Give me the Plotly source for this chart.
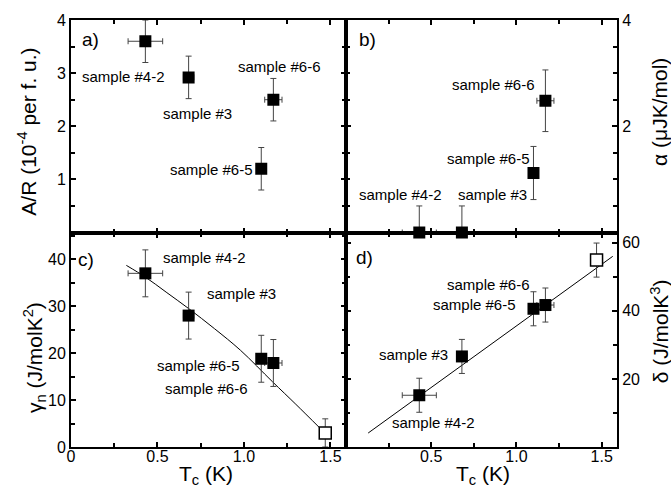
import plotly.graph_objects as go

# ---------------- data ----------------
samples = ["sample #4-2", "sample #3", "sample #6-5", "sample #6-6"]
Tc = [0.43, 0.68, 1.10, 1.17]
Tc_err = [0.10, 0.03, 0.0, 0.05]

A_R = [3.6, 2.92, 1.2, 2.5]
A_R_err = [0.4, 0.4, 0.4, 0.4]

alpha = [0.0, 0.0, 1.12, 2.48]
alpha_err_plus = [0.5, 0.5, 0.5, 0.58]
alpha_err_minus = [0.0, 0.0, 0.5, 0.58]

gamma_n = [37.0, 28.0, 18.8, 17.9]
gamma_err = [5, 5, 5, 5]

delta = [15.2, 26.6, 40.6, 41.7]
delta_err = [5, 5, 5, 5]

# open-square point (extrapolated)
Tc_open = [1.47]
gamma_open = [3.0]
gamma_open_err = [3.0]
delta_open = [54.9]
delta_open_err = [5.0]

# fit curves
fit_c_x = [0.32, 0.43, 0.55, 0.68, 0.83, 0.98, 1.165, 1.30, 1.44]
fit_c_y = [38.7, 36.2, 33.0, 29.5, 25.2, 20.6, 13.9, 9.1, 4.0]
fit_d_x = [0.13, 1.565]
fit_d_y = [4.1, 56.0]

# ---------------- layout geometry ----------------
W, H = 671, 489
L, R, T, B = 71, 617, 15, 447
XM, YM = 346, 230
def px(x): return (x - L) / (R - L)
def py(y): return (B - y) / (B - T)

FONT = "Liberation Sans, Arial, sans-serif"
ERRC = "#444"

fig = go.Figure()

def add_points(xa, ya, x, y, ex, ey, ey_minus=None, clip=True):
    ey_d = dict(type="data", array=ey, color=ERRC, thickness=1, width=3, visible=True)
    if ey_minus is not None:
        ey_d["symmetric"] = False
        ey_d["arrayminus"] = ey_minus
    fig.add_trace(go.Scatter(
        x=x, y=y, xaxis=xa, yaxis=ya, mode="markers", cliponaxis=clip,
        marker=dict(symbol="square", size=12, color="black"),
        error_x=dict(type="data", array=ex, color=ERRC, thickness=1, width=3, visible=True),
        error_y=ey_d, showlegend=False))

def add_open(xa, ya, x, y, ey):
    fig.add_trace(go.Scatter(
        x=x, y=y, xaxis=xa, yaxis=ya, mode="markers",
        marker=dict(symbol="square", size=12, color="white", line=dict(color="black", width=1.5)),
        error_y=dict(type="data", array=ey, color=ERRC, thickness=1, width=3),
        showlegend=False))

# a)
add_points("x", "y", Tc, A_R, Tc_err, A_R_err)
# b)
add_points("x2", "y2", Tc, alpha, Tc_err, alpha_err_plus, alpha_err_minus, clip=False)
# c)
fig.add_trace(go.Scatter(x=fit_c_x, y=fit_c_y, xaxis="x3", yaxis="y3", mode="lines",
                         line=dict(color="black", width=1, shape="spline"), showlegend=False))
add_points("x3", "y3", Tc, gamma_n, Tc_err, gamma_err)
add_open("x3", "y3", Tc_open, gamma_open, gamma_open_err)
# d)
fig.add_trace(go.Scatter(x=fit_d_x, y=fit_d_y, xaxis="x4", yaxis="y4", mode="lines",
                         line=dict(color="black", width=1), showlegend=False))
add_points("x4", "y4", Tc, delta, Tc_err, delta_err)
add_open("x4", "y4", Tc_open, delta_open, delta_open_err)

xl = [0, px(XM)]
xr = [px(XM), 1]
yt = [py(YM), 1]
yb = [0, py(YM)]

common = dict(showline=True, linecolor="black", linewidth=2, mirror="allticks",
              ticks="inside", ticklen=5, tickwidth=1.5, tickcolor="black",
              showgrid=False, zeroline=False,
              tickfont=dict(family=FONT, size=16, color="black"),
              minor=dict(ticks="inside", ticklen=4, tickwidth=1.5, tickcolor="black", showgrid=False))

def ax(**kw):
    d = dict(common)
    m = dict(common["minor"])
    if "minor" in kw:
        m.update(kw.pop("minor"))
    d.update(kw)
    d["minor"] = m
    return d

XR = [0, 1.59]
fig.update_layout(
    width=W, height=H,
    margin=dict(l=L, r=W - R, t=T, b=H - B),
    paper_bgcolor="white", plot_bgcolor="white",
    xaxis=ax(domain=xl, anchor="y", range=XR, tickvals=[0, 0.5, 1.0, 1.5], showticklabels=False,
             minor=dict(dtick=0.25, tick0=0)),
    yaxis=ax(domain=yt, anchor="x", range=[0, 4], tickvals=[1, 2, 3, 4],
             minor=dict(dtick=0.5, tick0=0)),
    xaxis2=ax(domain=xr, anchor="y2", range=XR, tickvals=[0, 0.5, 1.0, 1.5], showticklabels=False,
              minor=dict(dtick=0.25, tick0=0)),
    yaxis2=ax(domain=yt, anchor="x2", side="right", range=[0, 4], tickvals=[2, 4],
              minor=dict(dtick=0.5, tick0=0)),
    xaxis3=ax(domain=xl, anchor="y3", range=XR, tickvals=[0, 0.5, 1.0, 1.5],
              ticktext=["0", "0.5", "1.0", "1.5"], ticklabelstandoff=-6,
              minor=dict(dtick=0.25, tick0=0)),
    yaxis3=ax(domain=yb, anchor="x3", range=[0, 45.7], tickvals=[0, 10, 20, 30, 40],
              minor=dict(dtick=5, tick0=0)),
    xaxis4=ax(domain=xr, anchor="y4", range=XR, tickvals=[0.5, 1.0, 1.5],
              ticktext=["0.5", "1.0", "1.5"], ticklabelstandoff=-6,
              minor=dict(dtick=0.25, tick0=0)),
    yaxis4=ax(domain=yb, anchor="x4", side="right", range=[0, 63], tickvals=[20, 40, 60],
              minor=dict(dtick=10, tick0=0)),
)

ann = []
def label(text, x, y, size=15, angle=0):
    ann.append(dict(text=text, x=px(x), y=py(y), xref="paper", yref="paper",
                    showarrow=False, xanchor="center", yanchor="middle", textangle=angle,
                    font=dict(family=FONT, size=size, color="black")))

# panel letters
label("a)", 90, 35, 19)
label("b)", 367, 35, 19)
label("c)", 86, 257, 19)
label("d)", 364, 255, 19)

# sample labels (order of `samples`: #4-2, #3, #6-5, #6-6)
pos_a = [(123, 72), (197, 110), (211, 166), (279, 62)]
pos_b = [(400, 192), (492, 192), (488, 155), (493, 80)]
pos_c = [(204, 255), (241, 292), (198, 365), (206, 388)]
pos_d = [(433, 422), (413, 353), (474, 303), (488, 283)]
for pos in (pos_a, pos_b, pos_c, pos_d):
    for s, (x, y) in zip(samples, pos):
        label(s, x, y, 15)

# axis titles
label("A/R (10<sup>-4</sup> per f. u.)", 27, 128, 21, -90)
label("γ<sub>n</sub> (J/molK<sup>2</sup>)", 34, 357, 21, -90)
label("α (μJK/mol)", 660, 108, 21, -90)
label("δ (J/molK<sup>3</sup>)", 660, 330, 21, -90)
label("T<sub>c</sub> (K)", 206, 475, 21)
label("T<sub>c</sub> (K)", 483, 475, 21)

fig.update_layout(annotations=ann)
fig.write_html("out.html", config={"displayModeBar": False},
               post_script="document.body.style.margin='0';document.body.style.padding='0';")
